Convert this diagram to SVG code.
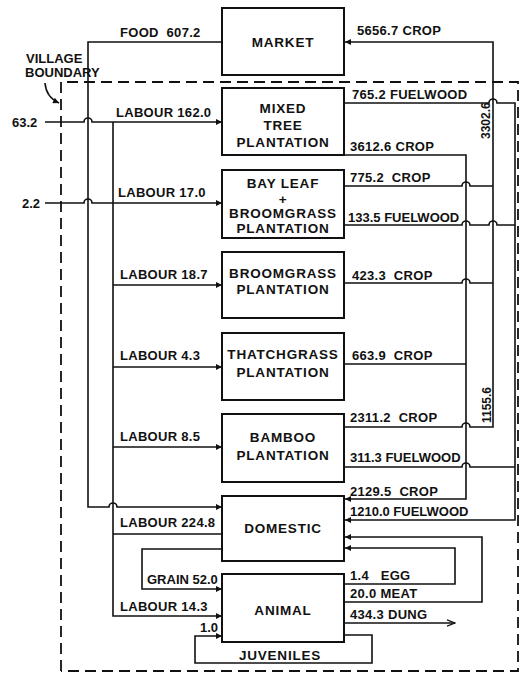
<svg xmlns="http://www.w3.org/2000/svg" width="525" height="675" viewBox="0 0 525 675">
<defs>
<style>
.box{fill:#fff;stroke:#111;stroke-width:2}
.ln{fill:none;stroke:#111;stroke-width:1.6}
.dash{fill:none;stroke:#111;stroke-width:1.8;stroke-dasharray:11 6}
text{font-family:"Liberation Sans",Arial,sans-serif;font-weight:bold;font-size:13px;fill:#111;white-space:pre}
.bt{text-anchor:middle;font-size:13.5px;letter-spacing:0.8px}
.lb{letter-spacing:0.3px}
.rot{font-size:12px}
</style>
<marker id="ah" viewBox="0 0 10 10" refX="10" refY="5" markerWidth="8" markerHeight="6" markerUnits="userSpaceOnUse" orient="auto"><path d="M0,0 L10,5 L0,10 z" fill="#111"/></marker>
<marker id="oh" viewBox="0 0 10 10" refX="10" refY="5" markerWidth="10" markerHeight="8" markerUnits="userSpaceOnUse" orient="auto"><path d="M0,1 L10,5 L0,9" fill="none" stroke="#111" stroke-width="1.6"/></marker>
</defs>
<rect width="525" height="675" fill="#fff"/>

<g id="boundary">
<path class="dash" d="M61,671 V82 H518 V671 H61"/>
<text x="26" y="63" font-size="10">VILLAGE</text>
<text x="25" y="77" font-size="10">BOUNDARY</text>
<path class="ln" d="M45,83 Q46,97 59,103" marker-end="url(#ah)"/>
</g>

<g id="connectors">
<!-- food -->
<path class="ln" d="M222,42 H88 V507 H109 a4,4 0 0 1 8,0 H222" marker-end="url(#ah)"/>
<!-- inputs -->
<path class="ln" d="M45,122 H84 a4,4 0 0 1 8,0 H222" marker-end="url(#ah)"/>
<path class="ln" d="M45,203 H84 a4,4 0 0 1 8,0 H222" marker-end="url(#ah)"/>
<!-- labour bus -->
<path class="ln" d="M113,122 V616 H222" marker-end="url(#ah)"/>
<path class="ln" d="M113,285 H222" marker-end="url(#ah)"/>
<path class="ln" d="M113,367 H222" marker-end="url(#ah)"/>
<path class="ln" d="M113,447 H222" marker-end="url(#ah)"/>
<path class="ln" d="M113,534 H222"/>
<!-- grain -->
<path class="ln" d="M222,549 H142 V589 H222" marker-end="url(#ah)"/>
<!-- juveniles -->
<path class="ln" d="M344,635 H372 V663 H195 V636 H222" marker-end="url(#ah)"/>
<!-- crop to market -->
<path class="ln" d="M344,427 H462 a4,4 0 0 1 8,0 H493 V42 H345" marker-end="url(#ah)"/>
<path class="ln" d="M344,186 H462 a4,4 0 0 1 8,0 H493"/>
<path class="ln" d="M344,283 H462 a4,4 0 0 1 8,0 H493"/>
<!-- crop to domestic -->
<path class="ln" d="M344,155 H466 V499 H345" marker-end="url(#ah)"/>
<path class="ln" d="M344,364 H466"/>
<!-- fuelwood to domestic -->
<path class="ln" d="M344,103 H489 a4,4 0 0 1 8,0 H515 V520 H345" marker-end="url(#ah)"/>
<path class="ln" d="M344,225 H462 a4,4 0 0 1 8,0 H489 a4,4 0 0 1 8,0 H515"/>
<path class="ln" d="M344,467 H462 a4,4 0 0 1 8,0 H515"/>
<!-- animal outputs -->
<path class="ln" d="M344,584 H455 V548 H345" marker-end="url(#ah)"/>
<path class="ln" d="M344,602 H482 V537 H345" marker-end="url(#ah)"/>
<path class="ln" d="M344,623 H455" marker-end="url(#oh)"/>
</g>

<g id="labels">
<text x="120" y="37" class="lb" xml:space="preserve">FOOD  607.2</text>
<text x="12" y="127">63.2</text>
<text x="22" y="208">2.2</text>
<text x="116" y="117" class="lb">LABOUR 162.0</text>
<text x="118" y="197" class="lb">LABOUR 17.0</text>
<text x="120" y="279" class="lb">LABOUR 18.7</text>
<text x="120" y="360" class="lb">LABOUR 4.3</text>
<text x="120" y="441" class="lb">LABOUR 8.5</text>
<text x="120" y="527" class="lb">LABOUR 224.8</text>
<text x="147" y="584">GRAIN 52.0</text>
<text x="120" y="611" class="lb">LABOUR 14.3</text>
<text x="200" y="632" font-size="11">1.0</text>
<text x="357" y="35" class="lb">5656.7 CROP</text>
<text x="352" y="99" class="lb">765.2 FUELWOOD</text>
<text x="350" y="151" class="lb">3612.6 CROP</text>
<text x="350" y="182" class="lb" xml:space="preserve">775.2  CROP</text>
<text x="348" y="222">133.5 FUELWOOD</text>
<text x="352" y="280" class="lb" xml:space="preserve">423.3  CROP</text>
<text x="352" y="360" class="lb" xml:space="preserve">663.9  CROP</text>
<text x="350" y="422" class="lb" xml:space="preserve">2311.2  CROP</text>
<text x="350" y="462">311.3 FUELWOOD</text>
<text x="350" y="496" class="lb" xml:space="preserve">2129.5  CROP</text>
<text x="350" y="516">1210.0 FUELWOOD</text>
<text x="350" y="580" class="lb" xml:space="preserve">1.4   EGG</text>
<text x="350" y="598" class="lb">20.0 MEAT</text>
<text x="350" y="619" class="lb">434.3 DUNG</text>
<text x="280" y="660" class="bt">JUVENILES</text>
<text class="rot" transform="translate(490,139) rotate(-90)">3302.6</text>
<text class="rot" transform="translate(491,423) rotate(-90)">1155.6</text>
</g>

<g id="market"><rect class="box" x="222" y="8" width="122" height="67"/><text x="283" y="47" class="bt">MARKET</text></g>
<g id="mixed-tree"><rect class="box" x="222" y="88" width="122" height="67"/><text x="283" y="113" class="bt">MIXED</text><text x="283" y="130" class="bt">TREE</text><text x="283" y="147" class="bt">PLANTATION</text></g>
<g id="bayleaf"><rect class="box" x="222" y="170" width="122" height="68"/><text x="283" y="188" class="bt">BAY LEAF</text><text x="283" y="203.5" class="bt" font-size="11">+</text><text x="283" y="218" class="bt">BROOMGRASS</text><text x="283" y="233" class="bt">PLANTATION</text></g>
<g id="broomgrass"><rect class="box" x="222" y="252" width="122" height="66"/><text x="283" y="278" class="bt">BROOMGRASS</text><text x="283" y="294" class="bt">PLANTATION</text></g>
<g id="thatchgrass"><rect class="box" x="222" y="333" width="122" height="67"/><text x="283" y="359" class="bt">THATCHGRASS</text><text x="283" y="377" class="bt">PLANTATION</text></g>
<g id="bamboo"><rect class="box" x="222" y="414" width="122" height="68"/><text x="283" y="442" class="bt">BAMBOO</text><text x="283" y="460" class="bt">PLANTATION</text></g>
<g id="domestic"><rect class="box" x="222" y="496" width="122" height="65"/><text x="283" y="533" class="bt">DOMESTIC</text></g>
<g id="animal"><rect class="box" x="222" y="574" width="122" height="68"/><text x="283" y="615" class="bt">ANIMAL</text></g>
</svg>
